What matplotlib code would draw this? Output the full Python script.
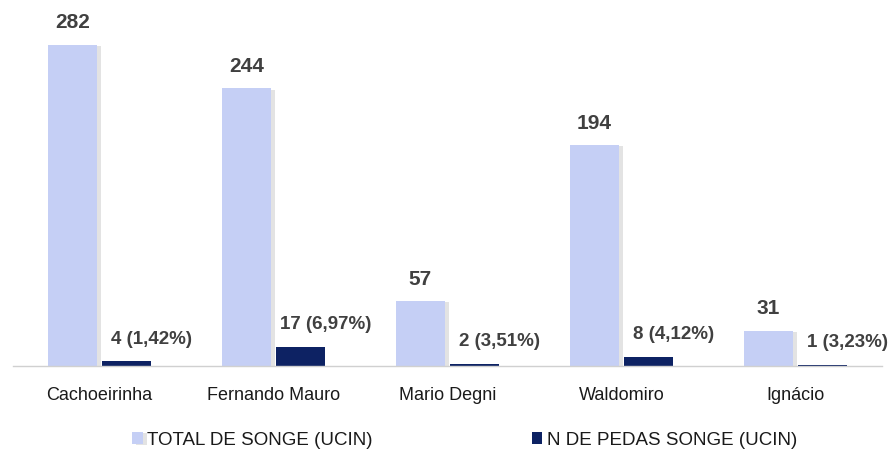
import numpy as np
import matplotlib.pyplot as plt
import matplotlib.patheffects as pe

plt.rcParams['font.family'] = ['Liberation Sans', 'DejaVu Sans']

categorias = ['Cachoeirinha', 'Fernando Mauro', 'Mario Degni', 'Waldomiro', 'Ignácio']
total = [282, 244, 57, 194, 31]
pedas = [4, 17, 2, 8, 1]
pedas_lbl = ['4 (1,42%)', '17 (6,97%)', '2 (3,51%)', '8 (4,12%)', '1 (3,23%)']

c_light = '#c5cff5'
c_dark = '#0d2263'
c_txt = '#404040'

fig = plt.figure(figsize=(8.93, 4.53), dpi=100)
ax = fig.add_axes([0.014, 0.192, 0.974, 0.797])

x = np.arange(len(categorias))
w = 0.28
shadow = [pe.SimplePatchShadow(offset=(3, -1), shadow_rgbFace='#b0b0b0', alpha=0.35), pe.Normal()]
b1 = ax.bar(x - 0.155, total, w, color=c_light, label='TOTAL DE SONGE (UCIN)', zorder=2)
b2 = ax.bar(x + 0.155, pedas, w, color=c_dark, label='N DE PEDAS SONGE (UCIN)', zorder=2)
for b in b1:
    b.set_path_effects(shadow)

for xi, v in zip(x, total):
    ax.annotate(str(v), (xi - 0.155, v), xytext=(0, 9), textcoords='offset points',
                ha='center', va='bottom', fontsize=15, fontweight='bold', color=c_txt)
for xi, v, t in zip(x, pedas, pedas_lbl):
    ax.annotate(t, (xi + 0.155, v), xytext=(18, 10), textcoords='offset points',
                ha='center', va='bottom', fontsize=13.5, fontweight='bold', color=c_txt)

ax.set_xlim(-0.5, 4.5)
ax.set_ylim(0, 317)
ax.set_yticks([])
ax.set_xticks(x)
ax.set_xticklabels(categorias, fontsize=13, color='#1a1a1a')
ax.tick_params(axis='x', length=0, pad=15)
for s in ['top', 'right', 'left']:
    ax.spines[s].set_visible(False)
ax.spines['bottom'].set_color('#d0d0d0')
ax.spines['bottom'].set_linewidth(1)

lg = ax.legend(loc='center', bbox_to_anchor=(0.52, -0.205), ncol=2, frameon=False,
               fontsize=13.5, handlelength=0.55, handleheight=0.6, handletextpad=0.25,
               columnspacing=8.5)
for t in lg.get_texts():
    t.set_color('#1a1a1a')

plt.savefig('out.png', dpi=100)
plt.close()
